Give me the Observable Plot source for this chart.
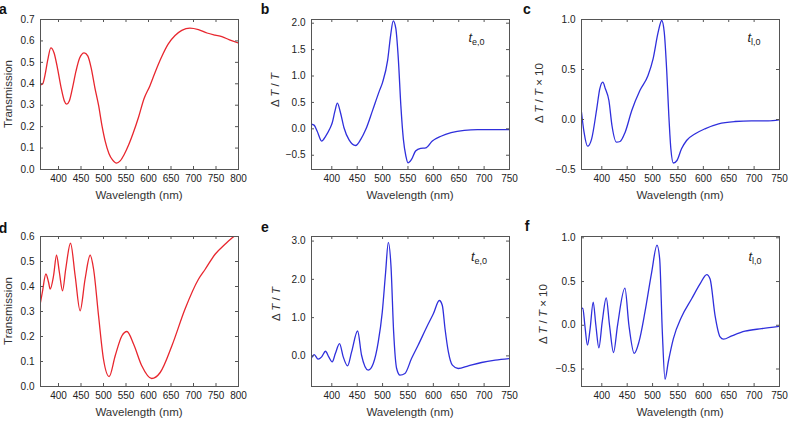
<!DOCTYPE html>
<html><head><meta charset="utf-8">
<script src="https://cdn.jsdelivr.net/npm/d3@7"></script>
<script src="https://cdn.jsdelivr.net/npm/@observablehq/plot@0.6"></script>
<style>
body{margin:0;background:#fff;}
#fig{position:relative;width:788px;height:421px;overflow:hidden;background:#fff;font-family:"Liberation Sans",Arial,sans-serif;}
#fig svg{position:absolute;overflow:visible;}
</style></head><body><div id="fig"></div>
<script>
// ---- data ----
const wlA = [360,365,370,376,383,390,398,406,413,418,424,431,439,447,457,465,473,481,489,497,504,512,520,529,537,546,556,566,578,590,603,615,628,644,659,674,692,711,730,748,763,780,800];
const tA  = [0.395,0.40,0.44,0.51,0.568,0.545,0.47,0.38,0.32,0.305,0.32,0.38,0.46,0.52,0.544,0.53,0.47,0.38,0.30,0.20,0.13,0.075,0.045,0.03,0.04,0.07,0.115,0.17,0.245,0.33,0.39,0.455,0.52,0.586,0.625,0.649,0.66,0.653,0.637,0.627,0.62,0.605,0.59];

const wlB = [360,365,371,380,388,396,401,406,411,417,424,434,447,457,467,480,493,500,510,516,521,526,531,536,541,546,550,557,565,575,585,598,615,635,661,687,720,750];
const dB  = [0.087,0.07,-0.04,-0.233,-0.137,0.0,0.12,0.33,0.488,0.31,0.02,-0.21,-0.316,-0.2,-0.01,0.34,0.70,0.88,1.30,1.78,2.045,1.905,1.33,0.44,-0.2,-0.52,-0.645,-0.58,-0.42,-0.37,-0.36,-0.23,-0.14,-0.072,-0.028,-0.015,-0.015,-0.015];

const wlC = [360,365,372,380,390,396,402,407,414,420,429,436,446,459,475,491,501,511,518,523,528,532,536,541,548,557,567,584,603,630,662,695,728,750];
const dC  = [0.073,-0.127,-0.267,-0.193,0.107,0.307,0.373,0.307,0.19,-0.06,-0.227,-0.22,-0.127,0.09,0.29,0.44,0.607,0.873,0.99,0.873,0.473,0.04,-0.293,-0.435,-0.41,-0.293,-0.21,-0.143,-0.093,-0.043,-0.02,-0.013,-0.013,-0.003];

const wlD = [360,364,372,378,381.5,389,395.6,402,409,416,426.7,437,448,459,470.4,478,489,500,512.6,526,541,552,567,585,607,626,652,681,711,726,748,770,790,800];
const tD  = [0.336,0.376,0.45,0.416,0.39,0.443,0.525,0.456,0.383,0.469,0.573,0.443,0.303,0.429,0.525,0.469,0.283,0.109,0.04,0.123,0.203,0.22,0.169,0.083,0.032,0.056,0.163,0.309,0.429,0.469,0.529,0.569,0.6,0.61];

const wlE = [360,365.3,373,380,387.6,394,400.8,407,415.2,422.5,431,439,450.8,458.6,471.8,481.7,491.5,499.4,506,511.3,516.5,521.8,527.7,534.3,544,557,570,587,600,611.8,617.7,623,629.6,637.5,649,669,695,722,750];
const dE  = [-0.052,0.035,-0.087,-0.026,0.121,-0.026,-0.156,0.061,0.321,-0.026,-0.26,0.104,0.65,0.017,-0.373,-0.2,0.364,1.145,2.185,2.965,2.36,0.624,-0.33,-0.503,-0.46,-0.07,0.278,0.755,1.10,1.448,1.318,0.71,0.104,-0.243,-0.33,-0.26,-0.173,-0.113,-0.07];

const wlF = [360,362.6,366.6,371.8,377,383,388.3,394.2,400.8,408.7,415.2,423.1,431,445.5,453.4,463.9,473.2,485,498.2,508.7,514,519.2,524.5,531,541,557,577,593.5,606.7,613.3,623,633,639.6,656,682,715,750];
const dF  = [0.19,0.197,0.0,-0.227,-0.038,0.265,0.0,-0.258,0.038,0.314,0.0,-0.311,0.0,0.424,0.0,-0.322,-0.19,0.152,0.606,0.917,0.758,-0.076,-0.617,-0.417,-0.152,0.095,0.303,0.473,0.58,0.53,0.114,-0.133,-0.159,-0.121,-0.068,-0.038,-0.011];

const xTicks800 = [400,450,500,550,600,650,700,750,800];
const xTicks750 = [400,450,500,550,600,650,700,750];
const yTicksA = [0,0.1,0.2,0.3,0.4,0.5,0.6,0.7];
const yTicksB = [-0.5,0,0.5,1,1.5,2];
const yTicksC = [-0.5,0,0.5,1];
const yTicksD = [0,0.1,0.2,0.3,0.4,0.5,0.6];
const yTicksE = [0,1,2,3];
const yTicksF = [-0.5,0,0.5,1];

const xLabel = "Wavelength (nm)";
const RED = "#e8262e", BLUE = "#2f2fdc", FRAME = "#555";
const fig = document.getElementById("fig");
const TL = 3; // inward tick length (px)

function panel(o) {
  const data = o.wl.map((w, i) => ({w, v: o.v[i]}));
  const fmt = d3.format(o.fmt);
  const fw = o.width - o.ml - o.mr, fh = o.height - o.mt - o.mb;
  const tk = {stroke: FRAME, strokeWidth: 1};
  const svg = Plot.plot({
    width: o.width, height: o.height,
    marginLeft: o.ml, marginRight: o.mr, marginTop: o.mt, marginBottom: o.mb,
    style: {fontFamily: "'Liberation Sans', Arial, sans-serif", fontSize: "10px", color: "#222", background: "transparent", overflow: "visible"},
    x: {domain: o.xDomain},
    y: {domain: o.yDomain},
    marks: [
      Plot.line(data, {x: "w", y: "v", stroke: o.color, strokeWidth: 1.3, curve: "monotone-x", clip: true}),
      Plot.ruleX(o.xTicks, {x: d => d, insetTop: fh - TL, ...tk}),
      Plot.ruleX(o.xTicks, {x: d => d, insetBottom: fh - TL, ...tk}),
      Plot.ruleY(o.yTicks, {y: d => d, insetRight: fw - TL, ...tk}),
      Plot.ruleY(o.yTicks, {y: d => d, insetLeft: fw - TL, ...tk}),
      Plot.frame({stroke: FRAME, strokeWidth: 1}),
      Plot.axisX(o.xTicks, {anchor: "bottom", tickSize: 0, tickPadding: 5, label: null, tickFormat: d => d, fill: "#222"}),
      Plot.axisY(o.yTicks, {anchor: "left", tickSize: 0, tickPadding: 6, label: null, tickFormat: fmt, fill: "#222"})
    ]
  });
  svg.style.left = o.left + "px";
  svg.style.top = o.top + "px";
  const s = d3.select(svg);
  // panel letter
  s.append("text").attr("x", o.letterX).attr("y", o.letterY)
    .attr("font-weight", "bold").attr("font-size", 14).attr("fill", "#111").text(o.letter);
  // x label
  const cx = o.ml + fw / 2;
  s.append("text").attr("x", cx).attr("y", o.xLabelY).attr("text-anchor", "middle")
    .attr("font-size", 11.5).attr("fill", "#333").text(xLabel);
  // y label
  const yl = s.append("text").attr("transform", `translate(${o.yLabelX},${o.yLabelY}) rotate(-90)`)
    .attr("text-anchor", "middle").attr("font-size", 11.5).attr("fill", "#333");
  o.yParts.forEach(([t, it]) => yl.append("tspan").attr("font-style", it ? "italic" : null).text(t));
  // annotation
  if (o.ann) {
    const a = s.append("text").attr("x", o.annX).attr("y", o.annY).attr("fill", "#222").attr("font-size", 13);
    a.append("tspan").attr("font-style", "italic").text("t");
    a.append("tspan").attr("font-size", 9).attr("dy", 3).text(o.ann);
  }
  fig.appendChild(svg);
}

const yTrans = [["Transmission", false]];
const yDT = [["\u0394 ", false], ["T", true], [" / ", false], ["T", true]];
const yDT10 = [["\u0394 ", false], ["T", true], [" / ", false], ["T", true], [" \u00d7 10", false]];

// top row
panel({left: 0, top: 0, width: 262, height: 210, ml: 40, mr: 24, mt: 19, mb: 41,
  xDomain: [360, 800], yDomain: [0, 0.7], xTicks: xTicks800, yTicks: yTicksA, fmt: ".1f",
  wl: wlA, v: tA, color: RED, letter: "a", letterX: 3, letterY: 13.5,
  xLabelY: 199, yLabelX: 11.5, yLabelY: 94, yParts: yTrans});
panel({left: 262, top: 0, width: 262, height: 210, ml: 49, mr: 15, mt: 19, mb: 41,
  xDomain: [360, 750], yDomain: [-0.77, 2.07], xTicks: xTicks750, yTicks: yTicksB, fmt: ".1f",
  wl: wlB, v: dB, color: BLUE, letter: "b", letterX: 3, letterY: 14,
  xLabelY: 199, yLabelX: 16.5, yLabelY: 90, yParts: yDT, ann: "e,0", annX: 214.5, annY: 42});
panel({left: 524, top: 0, width: 264, height: 210, ml: 57, mr: 9, mt: 19, mb: 41,
  xDomain: [360, 750], yDomain: [-0.5, 1.0], xTicks: xTicks750, yTicks: yTicksC, fmt: ".1f",
  wl: wlC, v: dC, color: BLUE, letter: "c", letterX: 3, letterY: 13.5,
  xLabelY: 199, yLabelX: 19, yLabelY: 93, yParts: yDT10, ann: "l,0", annX: 230, annY: 42});
// bottom row
panel({left: 0, top: 210, width: 262, height: 211, ml: 40, mr: 24, mt: 26, mb: 35,
  xDomain: [360, 800], yDomain: [0, 0.6], xTicks: xTicks800, yTicks: yTicksD, fmt: ".1f",
  wl: wlD, v: tD, color: RED, letter: "d", letterX: 3, letterY: 22.5,
  xLabelY: 205.5, yLabelX: 11.5, yLabelY: 101, yParts: yTrans});
panel({left: 262, top: 210, width: 262, height: 211, ml: 49, mr: 15, mt: 26, mb: 35,
  xDomain: [360, 750], yDomain: [-0.8, 3.12], xTicks: xTicks750, yTicks: yTicksE, fmt: ".1f",
  wl: wlE, v: dE, color: BLUE, letter: "e", letterX: 3, letterY: 21.5,
  xLabelY: 205.5, yLabelX: 18, yLabelY: 94, yParts: yDT, ann: "e,0", annX: 217, annY: 51});
panel({left: 524, top: 210, width: 264, height: 211, ml: 57, mr: 9, mt: 26, mb: 35,
  xDomain: [360, 750], yDomain: [-0.70, 1.015], xTicks: xTicks750, yTicks: yTicksF, fmt: ".1f",
  wl: wlF, v: dF, color: BLUE, letter: "f", letterX: 3, letterY: 21,
  xLabelY: 205.5, yLabelX: 23, yLabelY: 104, yParts: yDT10, ann: "l,0", annX: 231, annY: 51});
</script>
</body></html>
